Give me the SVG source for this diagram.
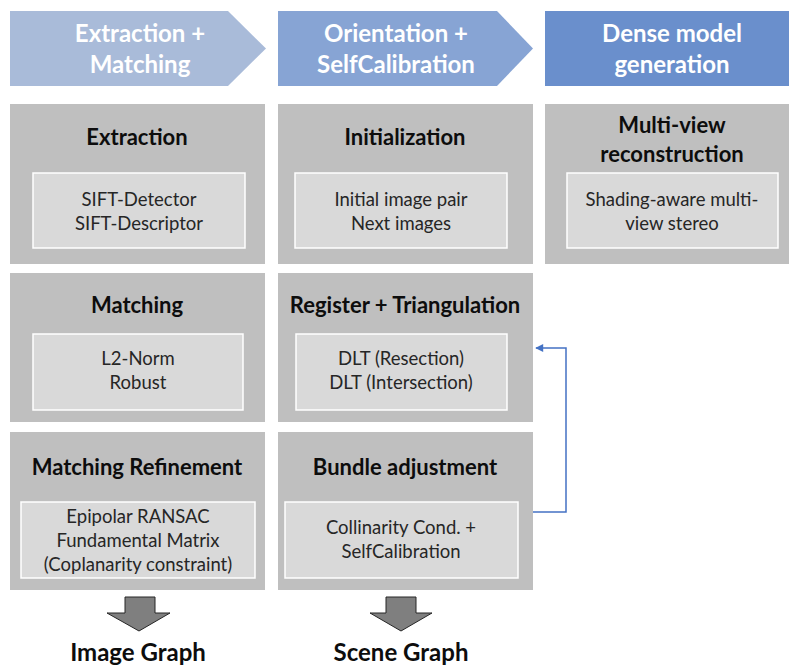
<svg xmlns="http://www.w3.org/2000/svg" width="789" height="666" viewBox="0 0 789 666">
<style>
.hd{font-family:Lato,"Open Sans","Liberation Sans",sans-serif;font-weight:bold;font-size:24px;fill:#ffffff;text-anchor:middle}
.box{fill:#bfbfbf}
.inner{fill:#d9d9d9;stroke:#ffffff;stroke-width:1.5}
.ti{font-family:Lato,"Open Sans","Liberation Sans",sans-serif;font-weight:bold;font-size:22px;fill:#0d0d0d;text-anchor:middle}
.tx{font-family:Lato,"Open Sans","Liberation Sans",sans-serif;font-size:18.5px;fill:#262626;text-anchor:middle}
.bt{font-family:Lato,"Open Sans","Liberation Sans",sans-serif;font-weight:bold;font-size:24px;fill:#0d0d0d;text-anchor:middle}
.out{fill:#7f7f7f;stroke:#262626;stroke-width:1}
</style>
<defs>
<marker id="ah" viewBox="0 0 10 10" refX="9" refY="5" markerWidth="10" markerHeight="8" markerUnits="userSpaceOnUse" orient="auto">
<path d="M0,0 L10,5 L0,10 Z" fill="#4472c4"/>
</marker>
</defs>
<g id="header1">
<polygon points="10,11 228,11 266,48.5 228,86 10,86" fill="#a9bbd9"/>
<text class="hd" x="140" y="42">Extraction +</text>
<text class="hd" x="140" y="73">Matching</text>
</g>
<g id="header2">
<polygon points="278,11 497,11 533,48.5 497,86 278,86" fill="#87a4d4"/>
<text class="hd" x="396" y="42">Orientation +</text>
<text class="hd" x="396" y="73">SelfCalibration</text>
</g>
<g id="header3">
<rect x="545" y="11" width="244" height="75" fill="#6a8fcc"/>
<text class="hd" x="672" y="42">Dense model</text>
<text class="hd" x="672" y="73">generation</text>
</g>
<g id="extraction">
<rect class="box" x="10" y="104" width="255" height="160"/>
<text class="ti" x="137" y="145">Extraction</text>
<rect class="inner" x="33" y="173" width="212" height="75"/>
<text class="tx" x="139" y="206">SIFT-Detector</text>
<text class="tx" x="139" y="230">SIFT-Descriptor</text>
</g>
<g id="matching">
<rect class="box" x="10" y="273" width="255" height="149"/>
<text class="ti" x="137" y="313">Matching</text>
<rect class="inner" x="33" y="334" width="210" height="76"/>
<text class="tx" x="138" y="365">L2-Norm</text>
<text class="tx" x="138" y="389">Robust</text>
</g>
<g id="refinement">
<rect class="box" x="10" y="432" width="255" height="158"/>
<text class="ti" x="137" y="475">Matching Refinement</text>
<rect class="inner" x="21" y="502" width="234" height="76"/>
<text class="tx" x="138" y="523">Epipolar RANSAC</text>
<text class="tx" x="138" y="547">Fundamental Matrix</text>
<text class="tx" x="138" y="571">(Coplanarity constraint)</text>
</g>
<g id="initialization">
<rect class="box" x="278" y="104" width="255" height="160"/>
<text class="ti" x="405" y="145">Initialization</text>
<rect class="inner" x="295" y="173" width="212" height="75"/>
<text class="tx" x="401" y="206">Initial image pair</text>
<text class="tx" x="401" y="230">Next images</text>
</g>
<g id="register">
<rect class="box" x="278" y="273" width="255" height="149"/>
<text class="ti" x="405" y="313">Register + Triangulation</text>
<rect class="inner" x="296" y="334" width="211" height="76"/>
<text class="tx" x="401" y="365">DLT (Resection)</text>
<text class="tx" x="401" y="389">DLT (Intersection)</text>
</g>
<g id="bundle">
<rect class="box" x="278" y="432" width="255" height="158"/>
<text class="ti" x="405" y="475">Bundle adjustment</text>
<rect class="inner" x="285" y="502" width="233" height="76"/>
<text class="tx" x="401" y="534">Collinarity Cond. +</text>
<text class="tx" x="401" y="558">SelfCalibration</text>
</g>
<g id="multiview">
<rect class="box" x="545" y="104" width="244" height="160"/>
<text class="ti" x="672" y="133">Multi-view</text>
<text class="ti" x="672" y="162">reconstruction</text>
<rect class="inner" x="567" y="173" width="211" height="75"/>
<text class="tx" x="672" y="206">Shading-aware multi-</text>
<text class="tx" x="672" y="230">view stereo</text>
</g>
<g id="imagegraph">
<polygon class="out" points="125,597 155,597 155,613 170,613 139,631 107,613 125,613"/>
<text class="bt" x="138" y="661">Image Graph</text>
</g>
<g id="scenegraph">
<polygon class="out" points="386,597 416,597 416,613 432,613 401,631 370,613 386,613"/>
<text class="bt" x="401" y="661">Scene Graph</text>
</g>
<g id="connectors">
<path d="M533,512 H566 V348 H536" fill="none" stroke="#4472c4" stroke-width="1.5" marker-end="url(#ah)"/>
</g>
</svg>
